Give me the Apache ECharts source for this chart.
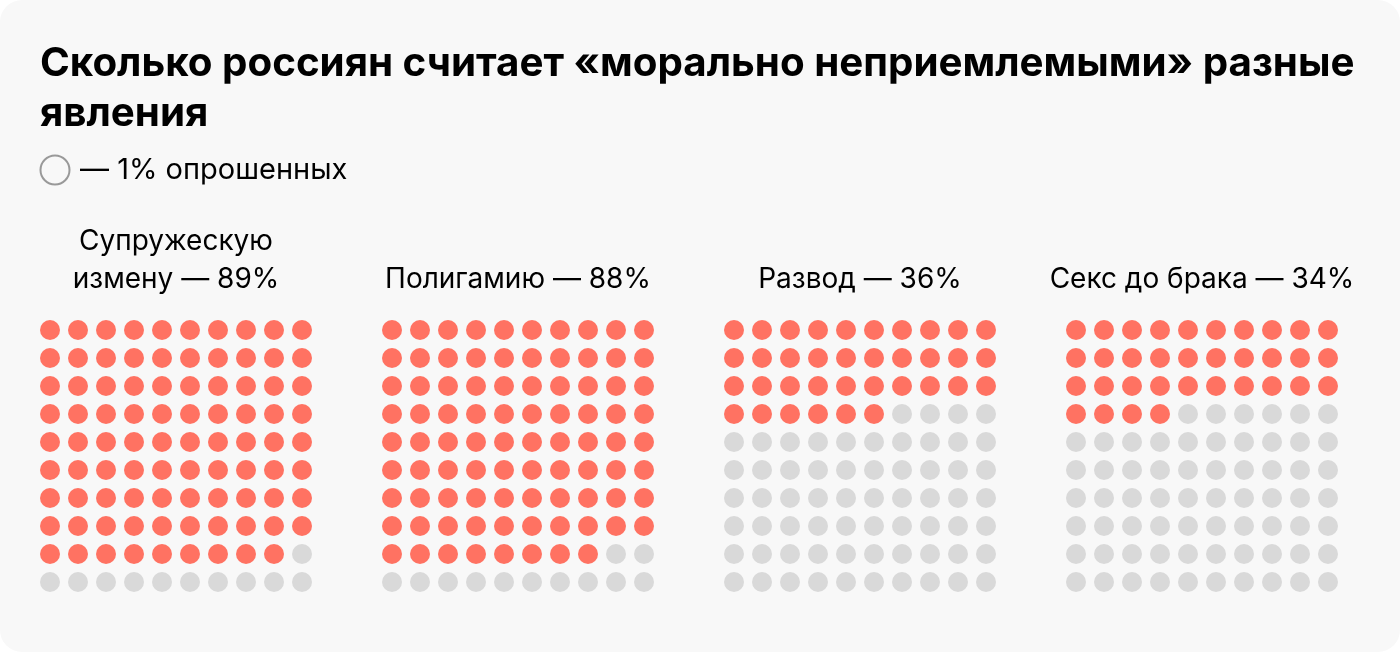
<!DOCTYPE html>
<html><head><meta charset="utf-8">
<script src="https://cdn.jsdelivr.net/npm/echarts@6/dist/echarts.min.js"></script>
<style>html,body{margin:0;padding:0;background:#fff}#c{width:1400px;height:652px}</style>
</head><body><div id="c"></div>
<script>
const categories = ['Супружескую\nизмену', 'Полигамию', 'Развод', 'Секс до брака'];
const values = [89, 88, 36, 34];
const titleText = 'Сколько россиян считает «морально неприемлемыми» разные\nявления';
const legendText = '— 1% опрошенных';

const RED = '#ff7262', GRAY = '#d9d9d9';
const FONT = 'Inter, "Noto Sans", sans-serif';
const chart = echarts.init(document.getElementById('c'), null, {renderer: 'canvas'});

const grids = [], xAxes = [], yAxes = [], series = [], graphics = [];
graphics.push({type: 'rect', left: 0, top: 0, shape: {width: 1400, height: 652, r: 22}, style: {fill: '#f8f8f8'}, z: -10});
graphics.push({type: 'text', x: 40, y: 39, style: {text: titleText, font: 'bold 40.3px ' + FONT, fill: '#000', lineHeight: 50, verticalAlign: 'top'}});
graphics.push({type: 'circle', shape: {cx: 55, cy: 170, r: 14.5}, style: {fill: '#f8f8f8', stroke: '#999', lineWidth: 2}});
graphics.push({type: 'text', x: 80, y: 170, style: {text: legendText, font: '29px ' + FONT, fill: '#000', verticalAlign: 'middle'}});

categories.forEach((cat, i) => {
  const left = 50 + i * 342;
  grids.push({left: left, top: 330, width: 252, height: 252});
  xAxes.push({type: 'value', gridIndex: i, min: 0, max: 9, show: false});
  yAxes.push({type: 'value', gridIndex: i, min: 0, max: 9, inverse: true, show: false});
  const data = [];
  for (let k = 0; k < 100; k++) {
    data.push({value: [k % 10, Math.floor(k / 10)], itemStyle: {color: k < values[i] ? RED : GRAY, opacity: 1}});
  }
  series.push({type: 'scatter', xAxisIndex: i, yAxisIndex: i, symbol: 'circle', symbolSize: 20, itemStyle: {opacity: 1}, data: data, silent: true, animation: false});
  graphics.push({type: 'text', x: left + 126, y: 298.5, style: {text: cat + ' — ' + values[i] + '%', font: '28px ' + FONT, fill: '#000', align: 'center', verticalAlign: 'bottom', lineHeight: 38}});
});

chart.setOption({animation: false, grid: grids, xAxis: xAxes, yAxis: yAxes, series: series, graphic: graphics});
</script></body></html>
